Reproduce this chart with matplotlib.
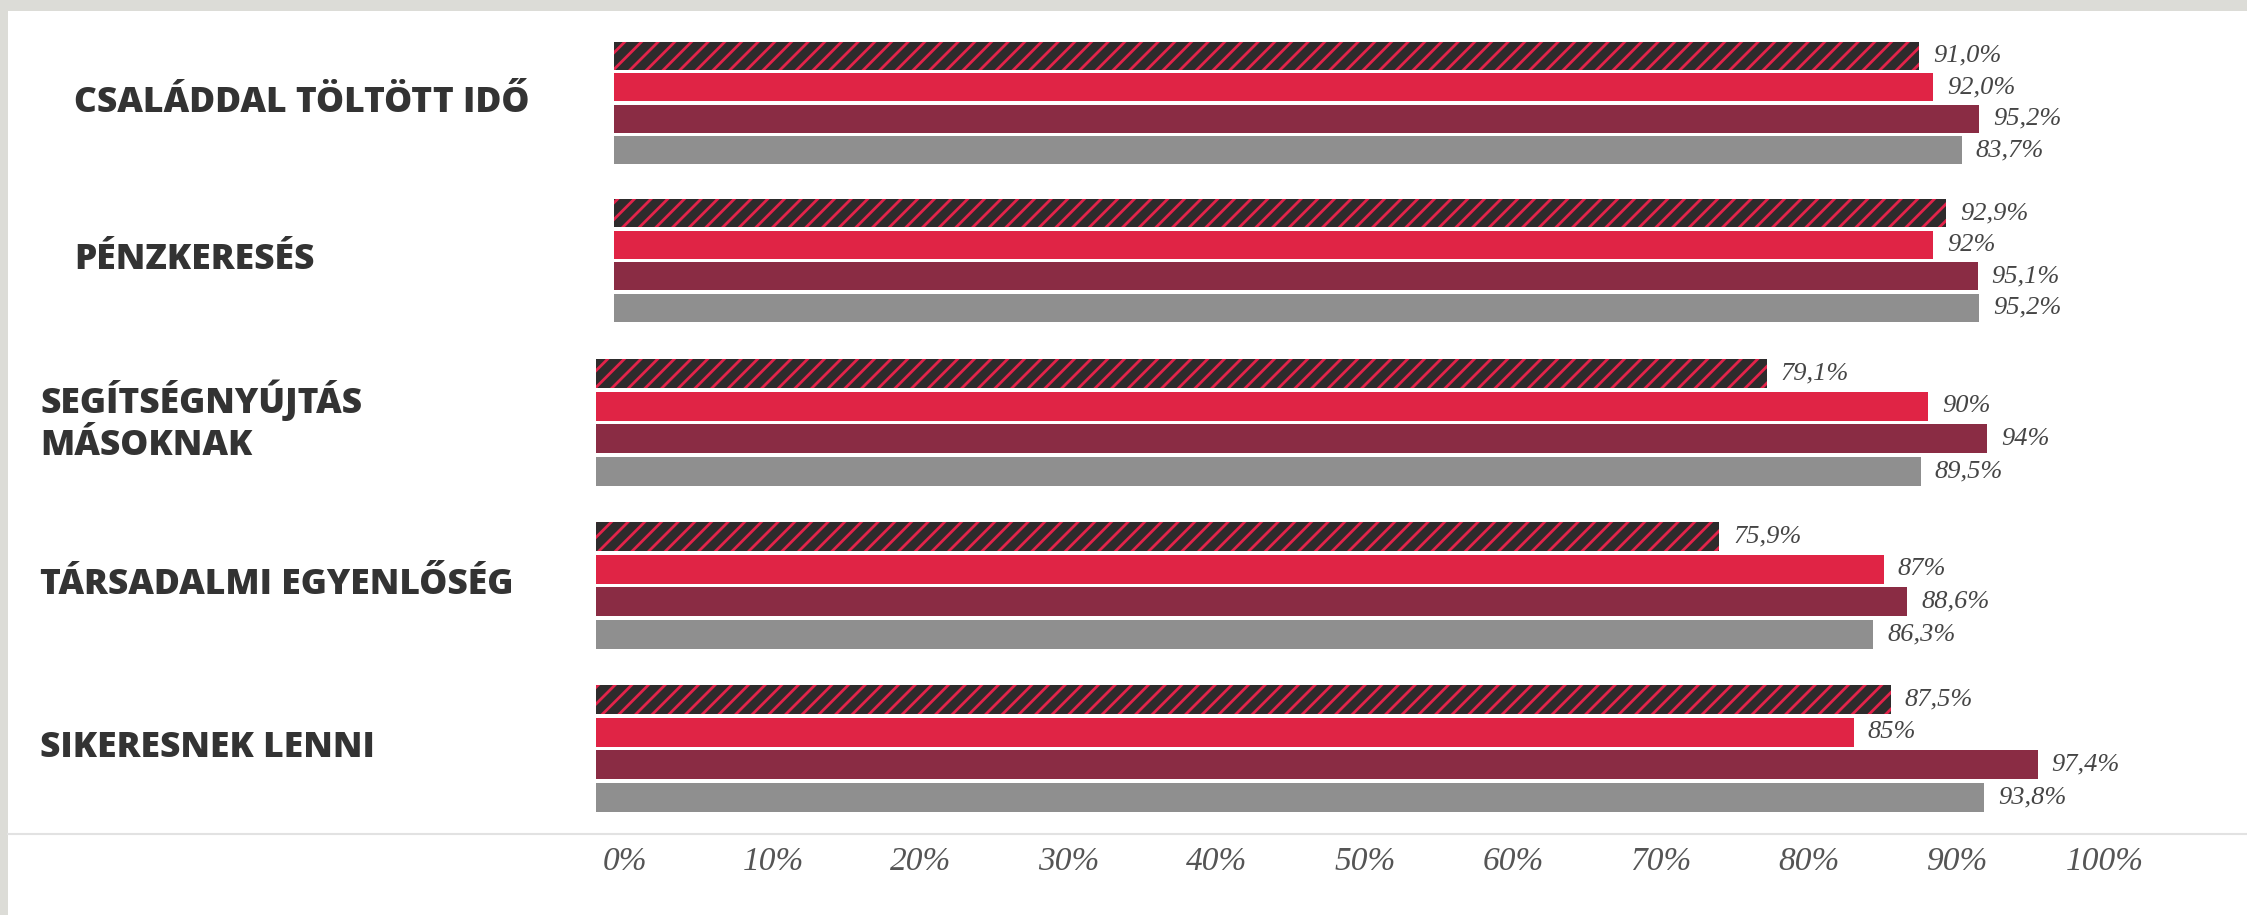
import matplotlib
matplotlib.use("Agg")
import matplotlib.pyplot as plt
import matplotlib.transforms as mtransforms
from matplotlib.patches import Rectangle
from matplotlib.lines import Line2D
import numpy as np

# ---------------- data ----------------
categories = ["CSALÁDDAL TÖLTÖTT IDŐ", "PÉNZKERESÉS", "SEGÍTSÉGNYÚJTÁS\nMÁSOKNAK",
              "TÁRSADALMI EGYENLŐSÉG", "SIKERESNEK LENNI"]

# bar lengths as drawn in the picture (top-to-bottom order inside each group)
series_hatched = [91.0, 92.9, 79.1, 75.9, 87.5]
series_red = [92.0, 92.0, 90.0, 87.0, 85.0]
series_maroon = [95.2, 95.1, 94.0, 88.6, 97.4]
series_gray = [94.0, 95.2, 89.5, 86.3, 93.8]

# printed value labels
labels_hatched = ["91,0%", "92,9%", "79,1%", "75,9%", "87,5%"]
labels_red = ["92,0%", "92%", "90%", "87%", "85%"]
labels_maroon = ["95,2%", "95,1%", "94%", "88,6%", "97,4%"]
labels_gray = ["83,7%", "95,2%", "89,5%", "86,3%", "93,8%"]

tick_values = [0, 10, 20, 30, 40, 50, 60, 70, 80, 90, 100]
tick_labels = ["0%", "10%", "20%", "30%", "40%", "50%", "60%", "70%", "80%", "90%", "100%"]

# ---------------- style ----------------
plt.rcParams["hatch.linewidth"] = 2.0
plt.rcParams["hatch.color"] = "#e3234a"

C_DARK = "#2e2b2c"
C_HATCH = "#e3234a"
C_RED = "#e02445"
C_MAROON = "#8a2c44"
C_GRAY = "#8f8f8f"
C_TEXT = "#333333"
C_VAL = "#454545"

W, H = 2247, 915
fig = plt.figure(figsize=(W / 100, H / 100), dpi=100)
fig.patch.set_facecolor("white")

# frame strips of the source screenshot
fig.patches.append(Rectangle((0, 1 - 11 / H), 1, 11 / H, transform=fig.transFigure,
                             facecolor="#dcdcd7", edgecolor="none", zorder=0))
fig.patches.append(Rectangle((0, 0), 8 / W, 1, transform=fig.transFigure,
                             facecolor="#dcdcd7", edgecolor="none", zorder=0))
fig.lines.append(Line2D([8 / W, 1], [1 - 834 / H, 1 - 834 / H], transform=fig.transFigure,
                        color="#e2e2e2", lw=1.5))


def px_axes(x0, x1, y0, y1):
    return fig.add_axes([x0 / W, 1 - y1 / H, (x1 - x0) / W, (y1 - y0) / H])


series = [series_hatched, series_red, series_maroon, series_gray]
series_labels = [labels_hatched, labels_red, labels_maroon, labels_gray]
colors = [C_DARK, C_RED, C_MAROON, C_GRAY]
hatches = ["//", None, None, None]

GROUP_STEP = 5
BAR_H = 0.89


def draw_part(ax, group_ids, label_x_px):
    for k, gi in enumerate(group_ids):
        for j in range(4):
            y = k * GROUP_STEP + j
            v = series[j][gi]
            if hatches[j]:
                ax.barh(y, v, height=BAR_H, color=colors[j], edgecolor=C_HATCH,
                        linewidth=0, hatch=hatches[j])
            else:
                ax.barh(y, v, height=BAR_H, color=colors[j], linewidth=0)
            ax.annotate(series_labels[j][gi], xy=(v, y), xytext=(10, 0),
                        textcoords="offset points", va="center", ha="left",
                        fontsize=19, fontstyle="italic", family="Liberation Serif",
                        color=C_VAL, annotation_clip=False)
        ax.annotate(categories[gi], xy=(label_x_px / W, k * GROUP_STEP + 1.5),
                    xycoords=("figure fraction", "data"), va="center", ha="left",
                    fontsize=25.5, fontweight="heavy", family="Open Sans", color=C_TEXT,
                    linespacing=1.2, annotation_clip=False)
    ax.set_xlim(0, 100)
    for s in ax.spines.values():
        s.set_visible(False)
    ax.set_xticks([])
    ax.set_yticks([])
    ax.patch.set_alpha(0)


# upper part (first two groups)
ax_top = px_axes(614, 2048, 24.2, 339.2)
ax_top.set_ylim(9, -1)
draw_part(ax_top, [0, 1], 74.5)

# lower part (last three groups)
ax_bot = px_axes(596, 2076, 340.9, 829.9)
ax_bot.set_ylim(14, -1)
draw_part(ax_bot, [2, 3, 4], 40)

# x tick labels
trans = mtransforms.blended_transform_factory(ax_bot.transData, fig.transFigure) + \
    mtransforms.ScaledTranslation(29 / 100, 0, fig.dpi_scale_trans)
for t, lab in zip(tick_values, tick_labels):
    fig.text(t, 1 - 862 / H, lab, transform=trans, ha="center", va="center",
             fontsize=24, fontstyle="italic", family="Liberation Serif", color="#555555")

fig.savefig("out.png", dpi=100, facecolor="white")
